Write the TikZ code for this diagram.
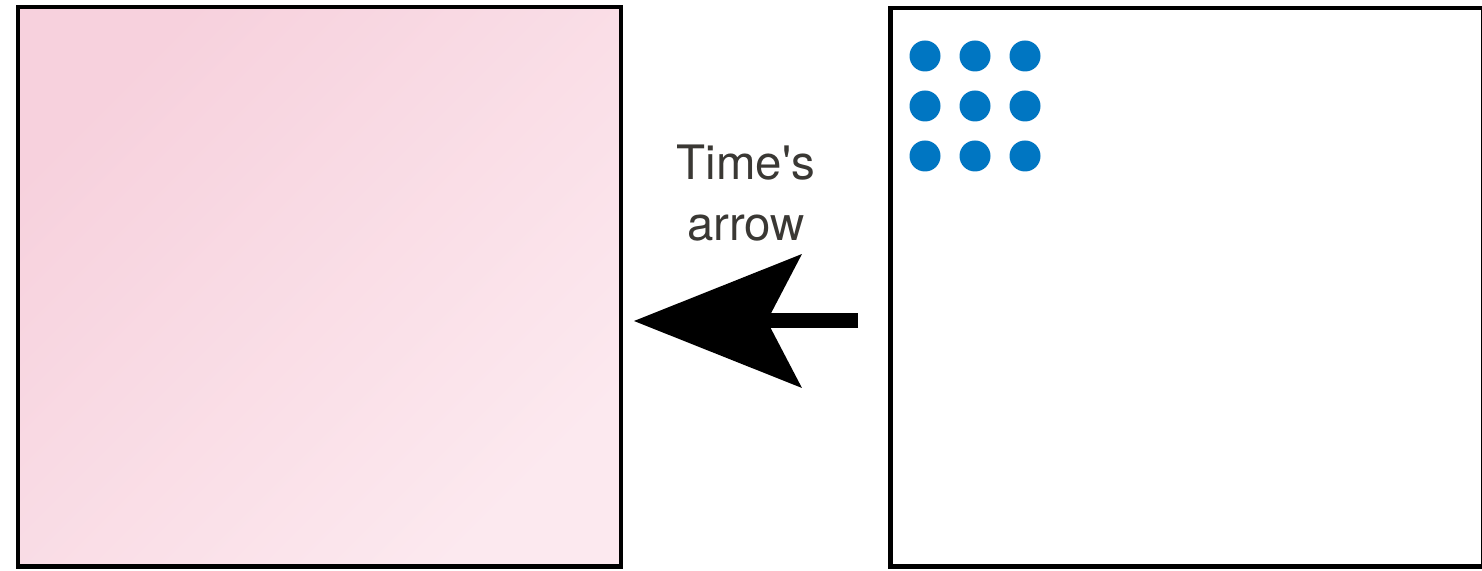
\documentclass[tikz,border=0pt]{standalone}
\usepackage{fontspec}
\setmainfont{TeX Gyre Heros}
\usepackage{tikz}
\usetikzlibrary{positioning, arrows.meta}
\definecolor{pinkdark}{RGB}{247,209,221}
\definecolor{pinklight}{RGB}{252,233,239}
\definecolor{dotblue}{RGB}{0,118,194}
\definecolor{textgray}{RGB}{58,56,52}
\begin{document}
\begin{tikzpicture}[x=0.02cm, y=0.02cm,
	box/.style={draw=black, line width=0.09cm, inner sep=0pt, anchor=south west},
	timearrow/.style={line width=0.3cm, -{Stealth[length=3.36cm, width=2.68cm, inset=0.7cm, line width=0pt]}}]
					\useasboundingbox (0,0) rectangle (1482,571);
					\node[box, top color=pinkdark, bottom color=pinklight, shading angle=45, minimum width=12.06cm, minimum height=11.2cm] (past) at (16,2) {};
					\node[box, fill=white, minimum width=11.86cm, minimum height=11.18cm] (present) at (888,2) {};
					\fill[dotblue] (925, 515) circle (15.5); \fill[dotblue] (975, 515) circle (15.5); \fill[dotblue] (1025, 515) circle (15.5);
					\fill[dotblue] (925, 465) circle (15.5); \fill[dotblue] (975, 465) circle (15.5); \fill[dotblue] (1025, 465) circle (15.5);
					\fill[dotblue] (925, 415) circle (15.5); \fill[dotblue] (975, 415) circle (15.5); \fill[dotblue] (1025, 415) circle (15.5);
					\coordinate (tail) at (858, 250);
					\coordinate (tip) at (634, 250);
					\draw[timearrow] (tail) -- (tip);
					\node[align=center, text=textgray, font=\fontsize{27}{35}\selectfont, inner sep=0pt] (label) at (746, 378) {Time\textquotesingle s\\arrow};
				\end{tikzpicture}
\end{document}
